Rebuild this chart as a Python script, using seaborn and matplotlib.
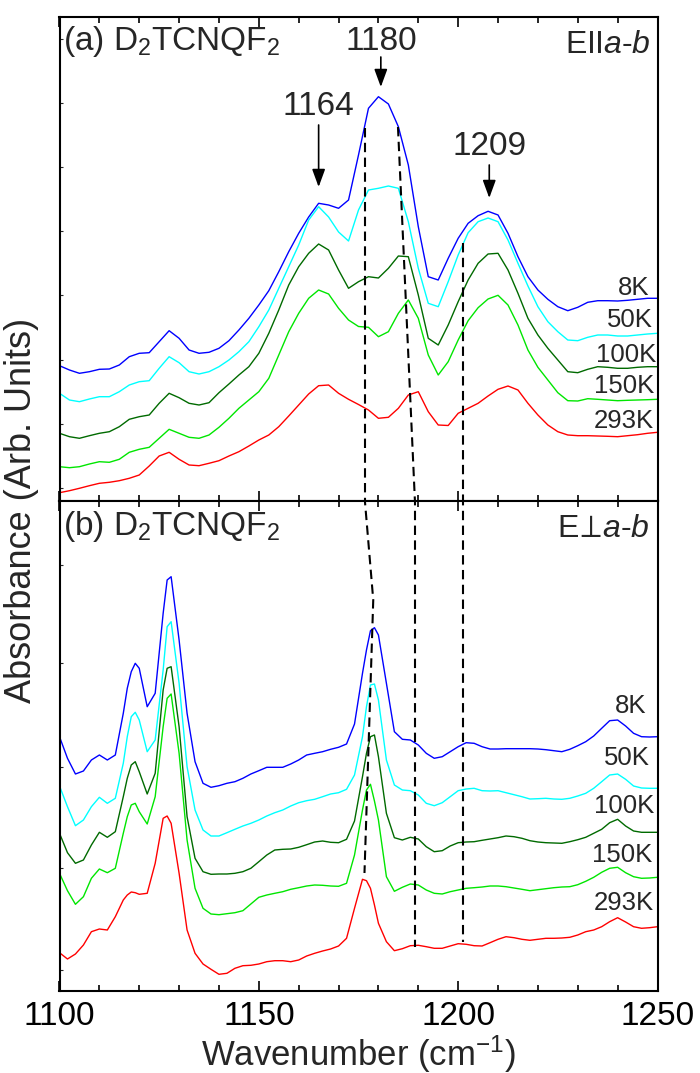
import matplotlib
matplotlib.use("Agg")
import matplotlib.pyplot as plt
from matplotlib.ticker import MultipleLocator, FixedLocator
import seaborn as sns
import pandas as pd

# ---------------- data ----------------
temps = ["8K", "50K", "100K", "150K", "293K"]
colors = ["#0000ff", "#00ffff", "#006a00", "#00e600", "#ff0000"]

# panel (a): E || a-b
wn_a = [1100, 1102.5, 1105, 1107.5, 1110, 1112.5, 1115, 1117.5, 1120, 1122.5,
        1125, 1127.5, 1130, 1132.5, 1135, 1137.5, 1140, 1142.5, 1145, 1147.5,
        1150, 1152.5, 1155, 1157.5, 1160, 1162.5, 1165, 1167.5, 1170, 1172.5,
        1175, 1177.5, 1180, 1182.5, 1185, 1187.5, 1190, 1192.5, 1195, 1197.5,
        1200, 1202.5, 1205, 1207.5, 1210, 1212.5, 1215, 1217.5, 1220, 1222.5,
        1225, 1227.5, 1230, 1232.5, 1235, 1237.5, 1240, 1242.5, 1245, 1247.5, 1250]
a_8K = [134.3, 130, 126.7, 128.3, 130.7, 131, 135, 143.3, 146.7, 147.3,
        158.3, 169.3, 161.7, 150, 146.7, 147.7, 151.7, 159.3, 170, 181.7,
        195, 209.3, 228.3, 248.3, 266.7, 283, 296.7, 295, 291.7, 300,
        345, 391.7, 403.3, 396, 373.3, 335, 273.3, 223.3, 220, 241.7,
        261.7, 276.7, 284.3, 288.7, 285, 266.7, 243.3, 223.3, 210, 200.7,
        193.3, 189.3, 192.7, 197.7, 199.3, 199.3, 199, 199.7, 200.7, 201.7, 201.7]
a_50K = [106.7, 100, 98.3, 101, 103.3, 103.3, 108.3, 115, 118.3, 119.3,
         131.7, 143.3, 137.3, 128.3, 126, 128.3, 133.3, 140, 148.3, 158.3,
         173.3, 190, 211.7, 233.3, 255, 280, 293.3, 283, 268, 259,
         290, 310, 311.7, 314, 311.7, 278.3, 231.7, 196.7, 193.3, 218.3,
         245, 267.3, 278.3, 282, 278.3, 260, 236.7, 214, 193.3, 178.3,
         168.3, 160, 159.3, 162.7, 165, 165, 164, 164, 165, 166, 166.7]
a_100K = [66.7, 63.3, 61.7, 64.3, 66.7, 68.3, 73.3, 80.7, 83.3, 85,
          96.7, 106.7, 102.3, 96.7, 95, 97.3, 107.3, 116, 125, 133.3,
          146.7, 166.7, 190, 215, 233.3, 246.7, 256, 250, 230, 211.7,
          218.3, 223.3, 222, 231.7, 244, 243.3, 205, 161.7, 155, 175,
          198.3, 220, 236.7, 246, 246.7, 230, 206.7, 181.7, 165, 151.7,
          140, 128.3, 127.3, 130.7, 133.3, 132.7, 131.7, 131.7, 132.7, 133.3, 133.3]
a_150K = [33.3, 32.3, 33.3, 36, 38.3, 37.7, 40.7, 47.7, 50.7, 52.7,
          61.7, 70.7, 66.7, 62.7, 61.7, 65, 72.7, 81.7, 91.7, 100,
          108.3, 121.7, 145, 168.3, 186.7, 201.7, 210, 206, 191.7, 180,
          173.5, 172.7, 163.3, 168.3, 186.7, 200, 181.7, 145, 125, 138.3,
          160, 179.3, 192.3, 201, 204.7, 195, 175, 150, 132.7, 120,
          107.3, 99.3, 99, 101.3, 100.7, 100, 99.3, 99.7, 100, 100.3, 100.7]
a_293K = [7.3, 9.3, 11.7, 14.3, 16.7, 17.7, 19.3, 21.7, 25, 34,
          44, 47.7, 40.7, 35, 34.3, 36.7, 39.3, 44, 48.3, 54,
          60, 65, 73.3, 84, 95, 106, 114.3, 115, 106.7, 100.7,
          95.5, 90, 81.7, 82.7, 91.7, 105, 108.3, 88.3, 75, 74.5,
          86.7, 91.7, 96.7, 104, 110.7, 114, 110, 96.7, 85, 75,
          68.3, 65, 64.3, 64.3, 64, 63.7, 63.3, 64.3, 65.3, 66.7, 67.7]

# panel (b): E perp a-b
wn_b = [1100, 1102, 1104, 1106, 1108, 1110, 1112, 1114, 1116, 1117, 1118, 1119,
        1120, 1122, 1124, 1126, 1127, 1128, 1130, 1132, 1134, 1136, 1138, 1140,
        1142, 1144, 1146, 1148, 1150, 1152, 1154, 1156, 1158, 1160, 1162, 1164,
        1166, 1168, 1170, 1172, 1174, 1176, 1177, 1178, 1179, 1180, 1182, 1184,
        1186, 1188, 1190, 1192, 1194, 1196, 1198, 1200, 1202, 1204, 1206, 1208,
        1210, 1212, 1214, 1216, 1218, 1220, 1222, 1224, 1226, 1228, 1230, 1232,
        1234, 1236, 1238, 1240, 1242, 1244, 1246, 1248, 1250]
b_8K = [254.3, 232.7, 217, 220, 231, 236, 231, 236, 277.7, 302.7, 319.3, 327.7,
        322.7, 284.3, 297.7, 377.7, 411, 414.3, 351, 277.7, 229.3, 207.7, 203.7, 205.3,
        207.7, 209.3, 212.7, 217, 220.3, 223.7, 223.7, 223.7, 227, 231, 236, 237.7,
        239.3, 241.7, 243.7, 247, 267, 317.7, 341, 360.3, 363.3, 356, 307.7, 259.3,
        251.7, 251, 246, 237.7, 232.7, 234.3, 239.3, 244.3, 248.3, 247.7, 244.3, 242,
        242, 242.3, 242.3, 242.3, 242.3, 242, 241.3, 240.3, 239.3, 241.7, 245.3, 249.3,
        255, 262.7, 270.3, 271, 265, 257.7, 254.3, 254, 254.3]
b_50K = [205, 184.3, 165.3, 171, 184.3, 193.7, 187.7, 192.7, 227.7, 254.3, 274.3, 278.7,
         271, 239.3, 251, 321, 364.3, 369.3, 307.7, 224.3, 181, 161, 155, 155,
         158.3, 161.7, 165, 167.7, 171, 175, 178.3, 181, 185, 188.3, 190.3, 191.7,
         194.3, 197, 198.3, 201.7, 216, 254.3, 284.3, 306, 307, 291, 231, 206,
         201, 200.3, 196, 187.7, 185.3, 188.3, 194.3, 200.3, 202, 202.7, 200.3, 200,
         200.3, 198.3, 196.3, 194.3, 192, 192.3, 192.7, 192, 191.7, 192.7, 195, 197.7,
         202.7, 209.3, 216, 217, 211.7, 205, 203, 202.7, 202.7]
b_100K = [157.7, 138.3, 127.7, 131, 146, 158.7, 153.7, 159.3, 194.3, 212.7, 226, 229.3,
          219.3, 197, 217.7, 301, 322.7, 324.3, 264.3, 174.3, 132.7, 119.3, 116.7, 117,
          117, 117.7, 119.3, 122.7, 129.3, 136, 141, 141.7, 142, 143.7, 146.3, 149,
          150, 148.7, 148.3, 151.7, 170, 214.3, 237.7, 254.3, 256, 234.3, 177.7, 153.3,
          151, 153.7, 152, 144.3, 139.3, 140.3, 145, 148.3, 149, 149.3, 150.7, 152,
          153.3, 155, 154.3, 152.7, 150.3, 149, 148.3, 148, 147.7, 149.3, 151.3, 153.7,
          157.7, 161.7, 168.3, 171.7, 165, 160, 158.7, 158.7, 158.7]
b_150K = [117.7, 100.3, 86.7, 94.3, 112.7, 122, 118.3, 122.7, 157.7, 174.3, 186, 187.7,
          179.3, 167, 194.3, 264.3, 292.7, 297, 237.7, 151, 102.7, 82.7, 77, 76.3,
          77.3, 78.3, 80.3, 87, 93.7, 96, 97.7, 99.3, 101.7, 103.3, 105, 106,
          105.7, 105, 104.7, 107.7, 136, 181, 201, 206.7, 190, 171, 114.3, 99.7,
          103.7, 107, 106, 101, 97.7, 97, 99.3, 101, 102.7, 103.3, 104, 105,
          105, 104.3, 103, 101.7, 100.3, 101.3, 102.3, 103.3, 104, 104.3, 106.3, 109.7,
          113.7, 118.7, 122.7, 123.7, 118.3, 114.3, 112.7, 113, 113.7]
b_293K = [38.3, 32, 37, 46, 59.3, 62, 61, 74.3, 91, 96, 99, 98.3,
          96.7, 97.7, 127.7, 172.7, 175, 167.7, 117.7, 61, 37.7, 27, 21.7, 16.7,
          17.7, 22.7, 25.3, 25.7, 27, 29.3, 30.3, 30.3, 29.3, 31, 35, 37.7,
          40, 42, 45, 52.7, 82.7, 111.7, 110.3, 102.7, 86, 67.7, 49.3, 40.3,
          42.3, 45.3, 45.7, 44.3, 42.7, 42.7, 45, 47.3, 46.7, 45.3, 45, 48.3,
          51.7, 54.3, 53.3, 51.7, 50.7, 51.7, 52.7, 52.7, 53, 53.7, 56, 59.3,
          61, 64.3, 69.3, 73.3, 69, 64.3, 62.7, 63.3, 64.3]

# temperature label anchors (right end x, baseline y)
lab_a_x = [1248.0, 1248.7, 1249.7, 1249.2, 1249.2]
lab_a_y = [205, 173, 138, 107, 72]
lab_b_x = [1247.2, 1248.0, 1249.2, 1248.8, 1249.2]
lab_b_y = [277.7, 226, 177.7, 129.3, 81]

# dashed guide lines (wavenumber, height) in each panel
guides_a = [([1176.6, 1176.6], [372, -5]),
            ([1184.9, 1189.2], [373, -5]),
            ([1201.2, 1201.2], [257, -5])]
guides_b = [([1176.5, 1178.7, 1176.5], [495, 391, 118]),
            ([1189.2, 1189.2], [495, 44]),
            ([1201.2, 1201.2], [495, 49])]

# peak annotations: label, wavenumber, text baseline, arrow tail, arrow tip
peaks = [("1164", 1165.0, 385, 375, 313),
         ("1180", 1180.6, 450, 443, 413),
         ("1209", 1207.8, 345, 335, 302)]

# ---------------- style ----------------
sns.set_theme(style="ticks")
plt.rcParams["font.family"] = ["Liberation Sans", "DejaVu Sans"]
plt.rcParams["mathtext.fontset"] = "custom"
plt.rcParams["mathtext.rm"] = "Liberation Sans"
plt.rcParams["mathtext.it"] = "Liberation Sans:italic"
plt.rcParams["mathtext.bf"] = "Liberation Sans:bold"
plt.rcParams["axes.linewidth"] = 1.5

fig = plt.figure(figsize=(7, 10.73), dpi=100)
W, H = 700, 1073
ax_a = fig.add_axes([59.5 / W, (H - 501) / H, 598 / W, 484 / H])
ax_b = fig.add_axes([59.5 / W, (H - 991) / H, 598 / W, 490 / H])


def long_df(wn, series):
    rows = []
    for t, vals in zip(temps, series):
        assert len(vals) == len(wn), (t, len(vals), len(wn))
        for x, y in zip(wn, vals):
            rows.append((x, y, t))
    return pd.DataFrame(rows, columns=["wn", "A", "T"])


df_a = long_df(wn_a, [a_8K, a_50K, a_100K, a_150K, a_293K])
df_b = long_df(wn_b, [b_8K, b_50K, b_100K, b_150K, b_293K])

for ax, df in ((ax_a, df_a), (ax_b, df_b)):
    sns.lineplot(data=df, x="wn", y="A", hue="T", hue_order=temps,
                 palette=colors, estimator=None, sort=False, lw=1.0,
                 legend=False, ax=ax)

ax_a.set_ylim(-1, 483)
ax_b.set_ylim(0, 490)

for ax, guides in ((ax_a, guides_a), (ax_b, guides_b)):
    for gx, gy in guides:
        ax.plot(gx, gy, color="black", lw=1.5, ls=(0, (4.5, 2.6)))

for ax in (ax_a, ax_b):
    ax.set_xlim(1100, 1250)
    ax.xaxis.set_major_locator(FixedLocator([1100, 1150, 1200, 1250]))
    ax.xaxis.set_minor_locator(MultipleLocator(10))
    ax.tick_params(axis="x", which="both", direction="in", top=True, bottom=True,
                   width=1.2, colors="black", labelsize=24, pad=7)
    ax.tick_params(axis="x", which="major", length=7)
    ax.tick_params(axis="x", which="minor", length=4)
    ax.tick_params(axis="y", which="both", direction="in", left=True, right=False,
                   length=2.5, width=0.8, labelleft=False)
    ax.set_xlabel("")
    ax.set_ylabel("")
    for s in ax.spines.values():
        s.set_visible(True)
        s.set_linewidth(1.5)
        s.set_color("black")

ax_a.yaxis.set_major_locator(FixedLocator([12, 76, 140, 205, 269, 333, 397, 461]))
ax_b.yaxis.set_major_locator(FixedLocator([21, 123, 224, 328, 426]))
ax_a.tick_params(axis="x", labelbottom=False)

ax_b.set_xlabel("Wavenumber (cm$^{\\mathrm{-1}}$)", fontsize=25, labelpad=1)
fig.text(22 / W, (H - 510) / H, "Absorbance (Arb. Units)", rotation=90,
         ha="center", va="center", fontsize=26)

# panel titles
ax_a.text(1100.9, 450, "(a) D$_2$TCNQF$_2$", fontsize=24, ha="left", va="baseline")
ax_a.text(1248.3, 447, "EII$\\mathit{a}$-$\\mathit{b}$", fontsize=23, ha="right", va="baseline")
ax_b.text(1100.9, 456, "(b) D$_2$TCNQF$_2$", fontsize=24, ha="left", va="baseline")
ax_b.text(1248.0, 454, "E$\\!\\perp\\!\\mathit{a}$-$\\mathit{b}$", fontsize=23,
          ha="right", va="baseline")

# temperature labels
for t, x, y in zip(temps, lab_a_x, lab_a_y):
    ax_a.text(x, y, t, fontsize=18.5, ha="right", va="baseline")
for t, x, y in zip(temps, lab_b_x, lab_b_y):
    ax_b.text(x, y, t, fontsize=18.5, ha="right", va="baseline")

# peak annotations with arrows
for lab, x, ty, tail, tip in peaks:
    ax_a.text(x, ty, lab, fontsize=24, ha="center", va="baseline")
    ax_a.annotate("", xy=(x, tip), xytext=(x, tail),
                  arrowprops=dict(arrowstyle="-|>,head_length=0.6,head_width=0.22",
                                  mutation_scale=18, lw=1.2, color="black",
                                  shrinkA=0, shrinkB=0))

fig.savefig("out.png", dpi=100)
